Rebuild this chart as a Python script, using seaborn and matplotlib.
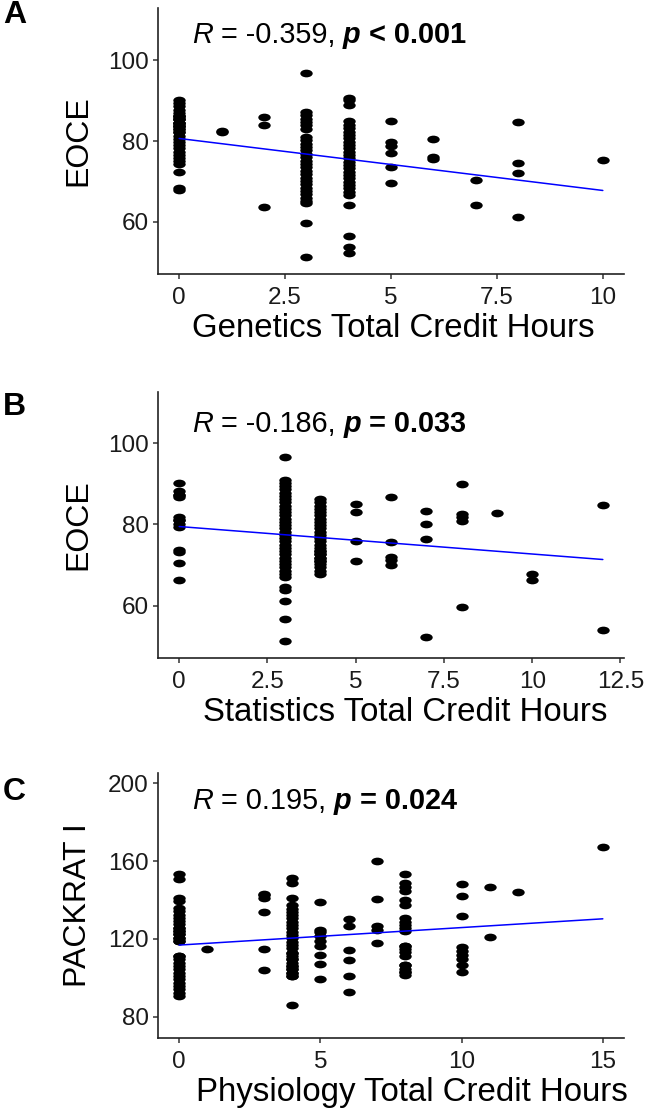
import numpy as np
import pandas as pd
import seaborn as sns
import matplotlib
matplotlib.use("Agg")
import matplotlib.pyplot as plt
import matplotlib.transforms as mtransforms
from matplotlib.path import Path

sns.set_style("ticks")
plt.rcParams['font.family'] = ['Liberation Sans', 'DejaVu Sans']
plt.rcParams['text.color'] = 'black'
plt.rcParams['axes.labelcolor'] = 'black'

# ---- data (credit hours -> scores at that level) ----
# dense columns hold a few overlapping (hidden) duplicates
gen_hours = [0, 1, 2, 3, 4, 5, 6, 7, 8, 10]
gen_eoce = [
    [90.2, 89.5, 88.6, 87.8, 87.0, 86.2, 85.4, 84.6, 83.8, 83.0, 82.2, 81.4, 80.6, 79.8,
     79.0, 78.2, 77.4, 76.6, 75.8, 75.0, 74.4, 72.3, 68.5, 67.9,
     86.2, 85.4, 84.6, 83.8, 83.0, 85.4, 84.6, 83.8, 86.2, 82.2],
    [82.6, 82.4],
    [86.1, 83.9, 63.8],
    [96.9, 87.3, 86.5, 85.6, 84.8, 83.9, 83.1, 81.0, 80.2, 79.4, 78.5, 77.7, 76.9, 76.0,
     75.2, 74.4, 73.5, 72.7, 71.9, 71.0, 70.2, 69.4, 68.5, 67.7, 66.9, 66.0, 65.2, 64.6,
     59.8, 51.2],
    [90.7, 90.1, 89.0, 84.9, 84.1, 83.3, 82.4, 81.6, 80.8, 79.9, 79.1, 78.3, 77.4, 76.6,
     75.8, 74.9, 74.1, 73.3, 72.4, 71.6, 70.8, 69.9, 69.1, 68.3, 67.4, 66.6, 64.2, 56.6,
     53.9, 52.2],
    [85.1, 79.7, 78.8, 77.0, 73.5, 69.6],
    [80.5, 76.2, 75.5],
    [70.4, 64.2],
    [84.8, 74.5, 72.2, 61.1],
    [75.4],
]

stat_hours = [0, 3, 4, 5, 6, 7, 8, 9, 10, 12]
stat_eoce = [
    [90.3, 88.1, 87.2, 86.7, 81.9, 81.1, 80.1, 79.4, 73.7, 73.1, 70.4, 66.3, 87.2, 81.1],
    [96.5, 90.9, 90.2, 89.4, 88.6, 87.8, 87.0, 86.2, 85.4, 84.6, 83.8, 83.0, 82.2, 81.4,
     80.6, 79.8, 79.0, 78.2, 77.4, 76.6, 75.8, 75.0, 74.2, 73.4, 72.6, 71.8, 71.0, 70.2,
     69.4, 68.6, 67.8, 67.1, 64.6, 63.8, 61.2, 56.7, 51.3],
    [86.2, 85.4, 84.6, 83.8, 83.0, 82.2, 81.4, 80.6, 79.8, 79.0, 78.2, 77.4, 76.6, 75.8,
     75.0, 74.2, 73.4, 72.6, 71.8, 71.0, 70.2, 69.4, 68.6, 67.9, 71.8, 71.0, 72.6, 73.4],
    [84.9, 83.0, 76.0, 70.9],
    [86.7, 75.6, 72.0, 71.2, 70.0],
    [83.4, 80.2, 76.5, 52.3],
    [90.0, 82.5, 81.7, 80.8, 59.7],
    [82.7],
    [67.8, 66.3],
    [84.8, 54.1],
]

phys_hours = [0, 1, 3, 4, 5, 6, 7, 8, 10, 11, 12, 15]
phys_packrat = [
    [153.6, 150.6, 140.8, 139.6, 135.9, 134.2, 132.5, 130.8, 129.1, 127.4, 125.7, 124.0,
     122.3, 120.6, 118.9, 111.1, 109.4, 107.7, 106.0, 104.3, 102.6, 100.9, 99.2, 97.5,
     95.8, 94.1, 92.4, 90.7, 125.7, 124.0, 122.3, 120.6, 118.9, 111.1],
    [114.9],
    [143.3, 142.3, 141.1, 133.9, 114.9, 103.9],
    [151.4, 148.8, 141.1, 137.3, 135.6, 133.9, 132.2, 130.5, 128.8, 127.1, 125.4, 123.7,
     122.0, 120.3, 118.6, 116.9, 115.2, 112.8, 111.1, 109.4, 107.7, 106.0, 104.3, 102.6,
     100.9, 85.9, 112.8, 109.4, 106.0, 102.6, 100.9, 104.3],
    [138.9, 124.8, 123.4, 121.7, 118.8, 116.2, 111.9, 107.3, 99.1],
    [130.0, 126.5, 114.5, 109.0, 100.8, 92.9],
    [159.9, 140.7, 126.5, 124.8, 117.9],
    [153.1, 148.8, 146.5, 144.5, 140.2, 137.3, 130.6, 128.9, 127.2, 125.5, 123.8, 116.5,
     114.8, 113.1, 111.4, 106.4, 104.7, 103.0, 101.3, 116.5, 106.4, 103.0],
    [148.0, 141.9, 131.7, 115.7, 113.7, 111.9, 109.7, 106.8, 102.9],
    [146.7, 120.9],
    [144.0],
    [167.0],
]

stat_text = [("-0.359", "< 0.001"), ("-0.186", "= 0.033"), ("0.195", "= 0.024")]


def to_frame(hours, scores):
    rows = [(h, s) for h, lst in zip(hours, scores) for s in lst]
    return pd.DataFrame(rows, columns=["x", "y"])


def annotate_stats(ax, r_txt, p_txt, ypos):
    # R italic, value normal, p bold italic, p-value bold
    pieces = [("R", "normal", "italic"),
              (" = " + r_txt + ",", "normal", "normal"),
              (" p", "bold", "italic"),
              (" " + p_txt, "bold", "normal")]
    prev = None
    for s, w, st in pieces:
        if prev is None:
            prev = ax.text(0.073, ypos, s, transform=ax.transAxes, fontsize=20.8,
                           fontweight=w, fontstyle=st, va="baseline", ha="left")
        else:
            prev = ax.annotate(s, xy=(1, 0), xycoords=prev, fontsize=20.8,
                               fontweight=w, fontstyle=st, va="bottom", ha="left")


# ellipse-shaped dots as in the reference
ellipse = Path.unit_circle().transformed(mtransforms.Affine2D().scale(1.0, 0.62))

W, H = 646, 1109
fig = plt.figure(figsize=(W / 100, H / 100), dpi=100)

panels = [
    (to_frame(gen_hours, gen_eoce), "Genetics Total Credit Hours", "EOCE",
     (8, 274), (-0.5, 10.5), (47.1, 113.0), [0, 2.5, 5, 7.5, 10], ["0", "2.5", "5", "7.5", "10"],
     [60, 80, 100], "A", 15, 0.869, 0.504),
    (to_frame(stat_hours, stat_eoce), "Statistics Total Credit Hours", "EOCE",
     (392, 658), (-0.6, 12.6), (47.1, 112.6), [0, 2.5, 5, 7.5, 10, 12.5],
     ["0", "2.5", "5", "7.5", "10", "12.5"], [60, 80, 100], "B", 407, 0.851, 0.531),
    (to_frame(phys_hours, phys_packrat), "Physiology Total Credit Hours", "PACKRAT I",
     (773, 1038), (-0.75, 15.75), (69.0, 205.3), [0, 5, 10, 15], ["0", "5", "10", "15"],
     [80, 120, 160, 200], "C", 792, 0.863, 0.546),
]

for i, (df, xlab, ylab, (top, bottom), xlim, ylim, xt, xtl, yt, letter, ly, ty, lx) in enumerate(panels):
    ax = fig.add_axes([158 / W, 1 - bottom / H, 466 / W, (bottom - top) / H])
    sns.regplot(data=df, x="x", y="y", ax=ax, ci=None, truncate=True, marker=ellipse,
                scatter_kws={"s": 80, "color": "black", "linewidths": 0, "alpha": 1},
                line_kws={"color": "blue", "lw": 1.1})
    ax.set_xlim(*xlim)
    ax.set_ylim(*ylim)
    ax.set_xticks(xt)
    ax.set_xticklabels(xtl)
    ax.set_yticks(yt)
    ax.set_xlabel(xlab, fontsize=23.8, labelpad=3)
    ax.xaxis.label.set_x(lx)
    ax.set_ylabel(ylab, fontsize=23, labelpad=11)
    ax.tick_params(labelsize=17.5, length=3.5, width=1.1, colors="#333333",
                   labelcolor="#1a1a1a", pad=3)
    ax.tick_params(axis="x", pad=6)
    sns.despine(ax=ax)
    for sp in ["left", "bottom"]:
        ax.spines[sp].set_linewidth(1.2)
        ax.spines[sp].set_color("#222222")
    annotate_stats(ax, stat_text[i][0], stat_text[i][1], ty)
    fig.text(3 / W, 1 - ly / H, letter, fontsize=23, fontweight="bold", va="center", ha="left")

fig.savefig("out.png", dpi=100)
